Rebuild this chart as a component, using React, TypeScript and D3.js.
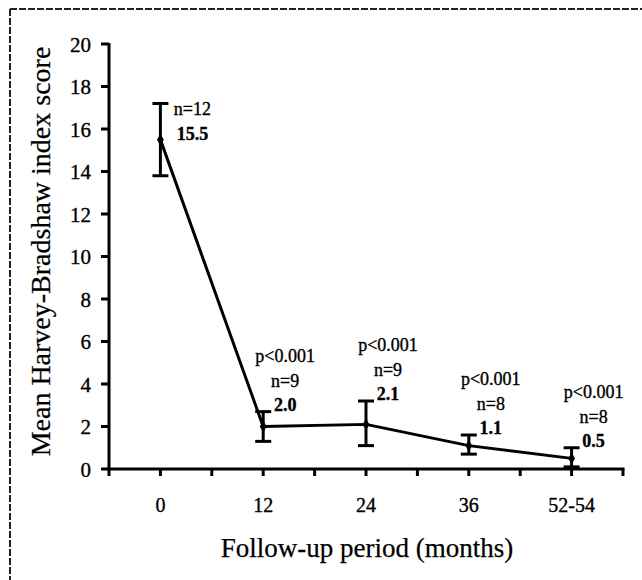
import * as d3 from "d3";

const periods = ["0", "12", "24", "36", "52-54"];
const means = [15.5, 2.0, 2.1, 1.1, 0.5];
const errLow = [13.8, 1.3, 1.1, 0.7, 0.1];
const errHigh = [17.2, 2.7, 3.2, 1.6, 1.0];
const sampleSizes = [12, 9, 9, 8, 8];
const pValues = ["", "p<0.001", "p<0.001", "p<0.001", "p<0.001"];
const yTicks = [0, 2, 4, 6, 8, 10, 12, 14, 16, 18, 20];

const FONT = "'Liberation Serif', 'Times New Roman', serif";
const W = 642, H = 580;

export default function App() {
  // slot scale: 10 slots, categories sit on odd slots, ticks on every slot
  const x = d3.scaleLinear().domain([0, 10]).range([109, 623]);
  const y = d3.scaleLinear().domain([0, 20]).range([469, 44]);
  const cx = (i: number) => x(2 * i + 1);

  const line = d3.line<number>()
    .x((_, i) => cx(i))
    .y((d) => y(d));

  const slots = d3.range(0, 11);
  const sw = 3;
  // scanned print looks heavier than a clean font, thicken a touch
  const ink = { stroke: "#000", strokeWidth: 0.35 };

  return (
    <svg width={W} height={H} style={{ position: "absolute", left: 0, top: 0, background: "#fff" }}
      fontFamily={FONT}>
      {/* scanned frame edge */}
      <line x1={10} x2={W} y1={9} y2={9} stroke="#222" strokeWidth={2} strokeDasharray="7,2" />
      <line x1={10} x2={10} y1={9} y2={H} stroke="#222" strokeWidth={2} strokeDasharray="7,2" />

      {/* y axis */}
      <line x1={x(0)} x2={x(0)} y1={y(20) - 1} y2={y(0) + 1.5} stroke="#000" strokeWidth={sw} />
      {yTicks.map((t) => (
        <g key={t}>
          <line x1={x(0) - 8} x2={x(0)} y1={y(t)} y2={y(t)} stroke="#000" strokeWidth={sw} />
          <text x={91} y={y(t)} dy="0.36em" textAnchor="end" fontSize={21} {...ink}>{t}</text>
        </g>
      ))}

      {/* x axis */}
      <line x1={x(0) - 1.5} x2={x(10) + 1.5} y1={y(0)} y2={y(0)} stroke="#000" strokeWidth={sw} />
      {slots.map((s) => (
        <line key={s} x1={x(s)} x2={x(s)} y1={y(0)} y2={y(0) + 7} stroke="#000" strokeWidth={sw} />
      ))}
      {periods.map((p, i) => (
        <text key={p} x={cx(i)} y={512} textAnchor="middle" fontSize={20} {...ink}>{p}</text>
      ))}

      {/* axis titles */}
      <text x={367} y={557} textAnchor="middle" fontSize={27} {...ink} strokeWidth={0.25}>Follow-up period (months)</text>
      <text transform={`translate(50,${(43 + 460) / 2}) rotate(-90)`} textAnchor="middle" fontSize={28}
        {...ink} strokeWidth={0.25}>
        Mean Harvey-Bradshaw index score
      </text>

      {/* error bars */}
      {means.map((_, i) => (
        <g key={i} stroke="#000" strokeWidth={sw}>
          <line x1={cx(i)} x2={cx(i)} y1={y(errHigh[i])} y2={y(errLow[i])} />
          <line x1={cx(i) - 8} x2={cx(i) + 8} y1={y(errHigh[i])} y2={y(errHigh[i])} />
          <line x1={cx(i) - 8} x2={cx(i) + 8} y1={y(errLow[i])} y2={y(errLow[i])} />
        </g>
      ))}

      {/* mean line */}
      <path d={line(means) ?? ""} fill="none" stroke="#000" strokeWidth={3} strokeLinejoin="round" />
      {means.map((m, i) => (
        <path key={i} d={d3.symbol(d3.symbolDiamond, 40)() ?? ""}
          transform={`translate(${cx(i)},${y(m)})`} fill="#000" />
      ))}

      {/* annotations */}
      {means.map((m, i) => {
        const first = i === 0;
        const tx = cx(i) + (first ? 32 : 22);
        const top = y(errHigh[i]);
        const valY = first ? top + 36 : top - 1;
        const nY = first ? top + 11 : valY - 24;
        const pY = nY - 25;
        return (
          <g key={i} textAnchor="middle" fontSize={18} {...ink}>
            {pValues[i] && <text x={tx} y={pY}>{pValues[i]}</text>}
            <text x={tx} y={nY}>n={sampleSizes[i]}</text>
            <text x={tx} y={valY} fontWeight="bold">{m.toFixed(1)}</text>
          </g>
        );
      })}
    </svg>
  );
}
